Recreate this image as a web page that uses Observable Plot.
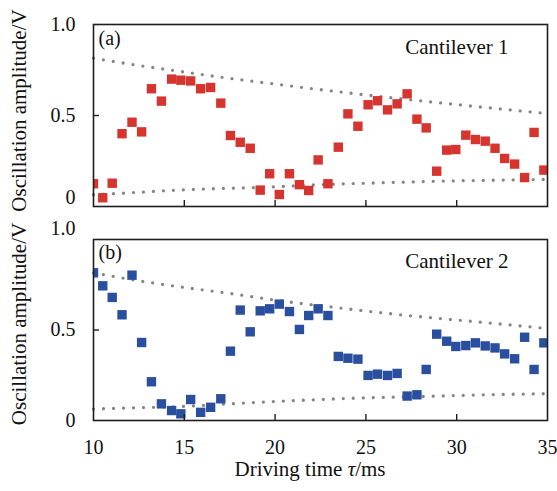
<!DOCTYPE html>
<html>
<head>
<meta charset="utf-8">
<script src="https://cdn.jsdelivr.net/npm/d3@7"></script>
<script src="https://cdn.jsdelivr.net/npm/@observablehq/plot@0.6"></script>
<style>
  body { margin: 0; background: #fff; }
  #wrap { position: relative; width: 557px; height: 491px; overflow: hidden; }
  #wrap svg { position: absolute; left: 0; }
</style>
</head>
<body>
<div id="wrap"></div>
<script>
// ---- data ----
const tau = [10.0, 10.51, 11.03, 11.57, 12.12, 12.65, 13.19, 13.74, 14.30, 14.81,
  15.35, 15.90, 16.45, 17.01, 17.54, 18.08, 18.63, 19.18, 19.70, 20.23,
  20.79, 21.34, 21.85, 22.37, 22.91, 23.48, 24.01, 24.56, 25.12, 25.64,
  26.19, 26.72, 27.27, 27.81, 28.32, 28.90, 29.45, 29.95, 30.50, 31.03,
  31.57, 32.11, 32.64, 33.19, 33.74, 34.26, 34.80];
const ampA = [0.125, 0.048, 0.128, 0.40, 0.463, 0.41, 0.647, 0.579, 0.70, 0.694,
  0.69, 0.647, 0.654, 0.568, 0.39, 0.353, 0.32, 0.09, 0.18, 0.066,
  0.18, 0.12, 0.088, 0.256, 0.125, 0.326, 0.509, 0.441, 0.559, 0.581,
  0.531, 0.564, 0.619, 0.48, 0.432, 0.194, 0.31, 0.313, 0.392, 0.368,
  0.359, 0.32, 0.264, 0.233, 0.159, 0.407, 0.2];
const ampB = [0.816, 0.744, 0.68, 0.584, 0.803, 0.431, 0.214, 0.092, 0.055, 0.037,
  0.116, 0.045, 0.073, 0.12, 0.383, 0.61, 0.49, 0.606, 0.617, 0.643,
  0.602, 0.503, 0.58, 0.617, 0.58, 0.354, 0.344, 0.339, 0.249, 0.256,
  0.249, 0.26, 0.135, 0.142, 0.282, 0.477, 0.438, 0.409, 0.414, 0.429,
  0.412, 0.401, 0.368, 0.341, 0.46, 0.282, 0.429];
const envTau = [10, 12.5, 15, 17.5, 20, 22.5, 25, 27.5, 30, 32.5, 35];
const upperA = [0.815, 0.775, 0.739, 0.704, 0.673, 0.642, 0.613, 0.586, 0.56, 0.535, 0.511];
const lowerA = [0.065, 0.078, 0.092, 0.10, 0.108, 0.12, 0.128, 0.135, 0.141, 0.145, 0.149];
const upperB = [0.816, 0.772, 0.735, 0.702, 0.665, 0.634, 0.605, 0.578, 0.555, 0.532, 0.508];
const lowerB = [0.063, 0.071, 0.078, 0.092, 0.105, 0.116, 0.125, 0.131, 0.138, 0.144, 0.148];
const xTicks = [10, 15, 20, 25, 30, 35];
const xInnerTicks = [15, 20, 25, 30];
const yTicks = [0, 0.5, 1];
const yTitle = "Oscillation amplitude/V";
const panels = [
  {tag: "(a)", name: "Cantilever 1", amp: ampA, upper: upperA, lower: lowerA, color: "#d6342f"},
  {tag: "(b)", name: "Cantilever 2", amp: ampB, upper: upperB, lower: lowerB, color: "#2a4f9f"}
];

const font = "Liberation Serif, Times New Roman, serif";
const fmtY = d => d === 0 ? "0" : d.toFixed(1);

function envLine(vals) {
  return Plot.line(envTau.map((t, i) => ({t, v: vals[i]})), {
    x: "t", y: "v", curve: "natural", stroke: "#858585", strokeWidth: 3.3,
    strokeDasharray: "0,10", strokeLinecap: "round"
  });
}

function panel(p, isBottom) {
  const pts = tau.map((t, i) => ({t, v: p.amp[i]}));
  const height = isBottom ? 276 : 218;
  const marginBottom = isBottom ? 71 : 12;
  // y tick labels: bottom "0" of (a) and top "1.0" of (b) are nudged up
  const normalY = isBottom ? [0, 0.5] : [0.5, 1];
  const shiftedY = isBottom ? [1] : [0];
  const shift = isBottom ? -11 : -9;
  const marks = [
    envLine(p.upper),
    envLine(p.lower),
    Plot.dot(pts, {x: "t", y: "v", symbol: "square", r: 5.3, fill: p.color, clip: true}),
    Plot.frame({stroke: "#1e1e1e", strokeWidth: 1.6}),
    Plot.ruleX(xInnerTicks, {x: d => d, y1: 0, y2: 0.033, stroke: "#1e1e1e", strokeWidth: 1.4}),
    Plot.ruleY([0.5], {y: d => d, x1: 10, x2: 10.33, stroke: "#1e1e1e", strokeWidth: 1.4}),
    Plot.text(normalY, {y: d => d, text: fmtY, frameAnchor: "left", dx: -18, textAnchor: "end",
      fontSize: 20, fill: "#111"}),
    Plot.text(shiftedY, {y: d => d, text: fmtY, frameAnchor: "left", dx: -18, dy: shift, textAnchor: "end",
      fontSize: 20, fill: "#111"}),
    Plot.text([p.tag], {frameAnchor: "top-left", dx: 5, dy: isBottom ? 19 : 20, lineAnchor: "bottom",
      textAnchor: "start", fontSize: 20, fill: "#111"}),
    Plot.text([p.name], {frameAnchor: "top-right", dx: -39, dy: isBottom ? 28 : 29, lineAnchor: "bottom",
      textAnchor: "end", fontSize: 21, fill: "#111"}),
    Plot.text([yTitle], {frameAnchor: "left", rotate: -90, dx: -74, dy: isBottom ? -6 : -5,
      textAnchor: "middle", lineAnchor: "middle", fontSize: 21, fill: "#111"})
  ];
  if (isBottom) {
    marks.push(Plot.text(xTicks, {x: d => d, text: d => String(d), frameAnchor: "bottom", dy: 33,
      lineAnchor: "bottom", fontSize: 20, fill: "#111"}));
  }
  return Plot.plot({
    width: 557, height,
    marginTop: 24, marginBottom, marginLeft: 93, marginRight: 10,
    style: {fontFamily: font, background: "transparent", overflow: "visible"},
    x: {domain: [10, 35], axis: null},
    y: {domain: [0, 1], axis: null},
    marks
  });
}

const wrap = document.getElementById("wrap");
const svgA = panel(panels[0], false);
svgA.style.top = "0px";
wrap.appendChild(svgA);
const svgB = panel(panels[1], true);
svgB.style.top = "215px";
wrap.appendChild(svgB);

// x-axis title with italic tau
const t = d3.select(svgB).append("text")
  .attr("x", 310).attr("y", 261)
  .attr("text-anchor", "middle")
  .attr("font-family", font).attr("font-size", 21).attr("fill", "#111");
t.append("tspan").text("Driving time ");
t.append("tspan").attr("font-style", "italic").text("τ");
t.append("tspan").text("/ms");
</script>
</body>
</html>
